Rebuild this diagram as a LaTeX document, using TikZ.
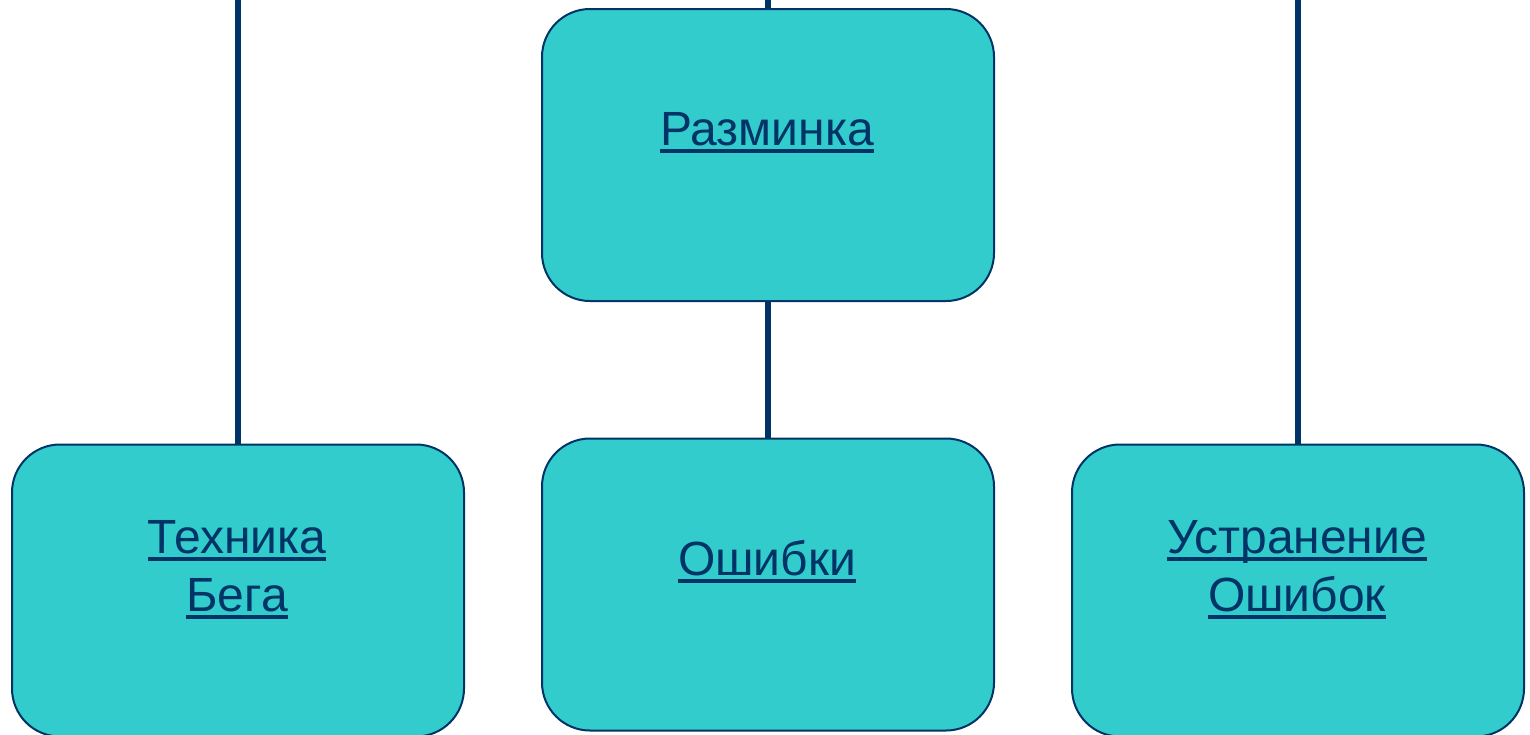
\documentclass[tikz,border=0pt]{standalone}
\usepackage{fontspec}
\setmainfont{Liberation Sans}
\definecolor{boxfill}{HTML}{33CCCC}
\definecolor{navy}{HTML}{003366}
\newcommand\myul[1]{\setbox0\hbox{#1}\rlap{\rule[-8pt]{\wd0}{4.5pt}}\box0}
\tikzset{
  stepbox/.style={draw=navy, line width=2pt, fill=boxfill, rounded corners=48pt,
    minimum width=452pt, minimum height=292pt, inner sep=0pt, anchor=north west},
  conn/.style={draw=navy, line width=6pt},
  lbl/.style={text=navy, font=\fontsize{48}{58}\selectfont, anchor=base, inner sep=0pt}
}
\begin{document}
\begin{tikzpicture}[x=1pt,y=-1pt]
\useasboundingbox (0,0) rectangle (1530,734);
\clip (0,0) rectangle (1530,734);
\node[stepbox] (top) at (541,8) {};
\node[stepbox] (mid) at (541,437.5) {};
\node[stepbox] (left) at (11,443.5) {};
\node[stepbox] (right) at (1071,443.5) {};
\coordinate (t1) at (left.north |- 0,0);
\coordinate (t2) at (top.north |- 0,0);
\coordinate (t3) at (right.north |- 0,0);
\coordinate (m1) at (top.south |- mid.north);
\draw[conn] (t1) -- (left.north);
\draw[conn] (t2) -- (top.north);
\draw[conn] (top.south) -- (m1);
\draw[conn] (t3) -- (right.north);
\node[lbl] (l1) at (767,145) {\myul{Разминка}};
\node[lbl] (l2) at (237,553) {\myul{Техника}};
\node[lbl] (l3) at (237,611) {\myul{Бега}};
\node[lbl] (l4) at (767,575) {\myul{Ошибки}};
\node[lbl] (l5) at (1297,553) {\myul{Устранение}};
\node[lbl] (l6) at (1297,611) {\myul{Ошибок}};
\end{tikzpicture}
\end{document}
